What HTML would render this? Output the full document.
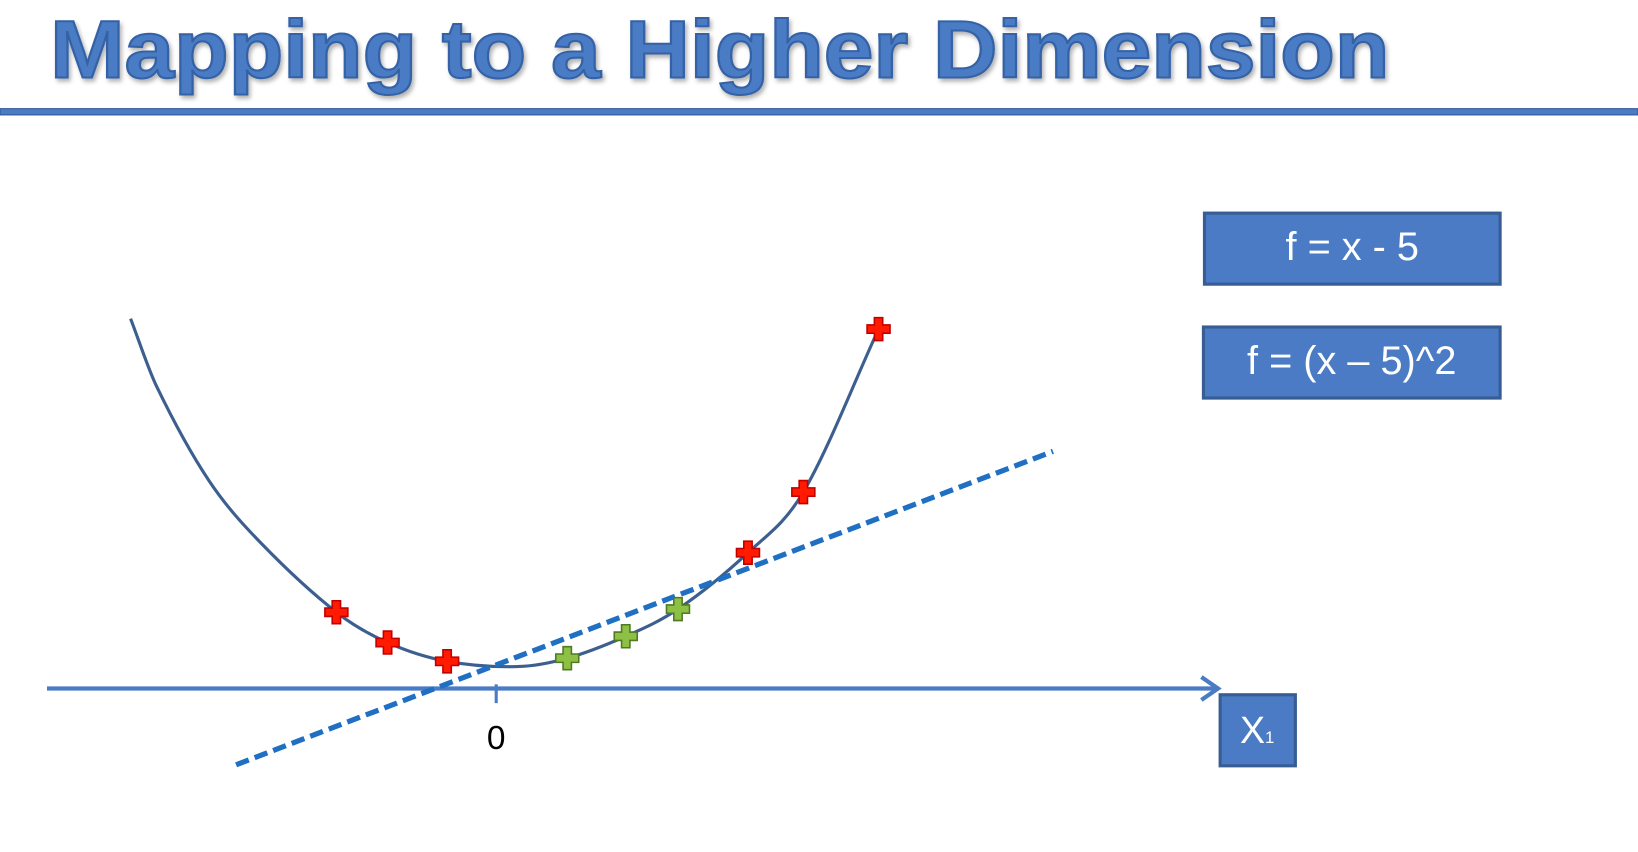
<!DOCTYPE html>
<html><head><meta charset="utf-8">
<style>
html,body{margin:0;padding:0;background:#fff;}
svg{display:block;}
text{font-family:"Liberation Sans",sans-serif;}
</style></head>
<body>
<svg id="chart" width="1638" height="852" viewBox="0 0 1568 815.5" preserveAspectRatio="none" xmlns="http://www.w3.org/2000/svg">
  <defs>
    <filter id="sh" x="-5%" y="-20%" width="110%" height="150%">
      <feDropShadow dx="2" dy="3" stdDeviation="2" flood-color="#000" flood-opacity="0.3"/>
    </filter>
  </defs>
  <text x="48" y="74" font-size="78" font-weight="bold" fill="#4a7cc4" stroke="#3462a6" stroke-width="2" textLength="1282" lengthAdjust="spacingAndGlyphs" filter="url(#sh)">Mapping to a Higher Dimension</text>
  <rect x="0" y="104" width="1568" height="6" fill="#4a7cc4" stroke="#2f5597" stroke-width="1"/>

  <g>
    <rect x="1153" y="204" width="283" height="68" fill="#4a7bc4" stroke="#385d94" stroke-width="3"/>
    <text x="1294.5" y="249" font-size="38" fill="#fff" text-anchor="middle">f = x - 5</text>
  </g>
  <g>
    <rect x="1152" y="313" width="284" height="68" fill="#4a7bc4" stroke="#385d94" stroke-width="3"/>
    <text x="1294" y="358" font-size="38" fill="#fff" text-anchor="middle">f = (x – 5)^2</text>
  </g>

  <g id="axis">
    <line x1="45" y1="659" x2="1166" y2="659" stroke="#4a7cc4" stroke-width="4"/>
    <polyline points="1150,648 1166,659 1150,670" fill="none" stroke="#4a7cc4" stroke-width="4"/>
    <line x1="475" y1="655" x2="475" y2="673" stroke="#4a7cc4" stroke-width="3"/>
    <text x="475" y="717" font-size="32" text-anchor="middle" fill="#000">0</text>
    <g>
      <rect x="1168" y="665" width="72" height="68" fill="#4a7bc4" stroke="#385d94" stroke-width="3"/>
      <text x="1199" y="711" font-size="36" fill="#fff" text-anchor="middle">X</text>
      <text x="1211" y="711" font-size="16" fill="#fff">1</text>
    </g>
  </g>
  <g id="plot"></g>
</svg>
<script>
// data (x in data units, y in data units)
const curveX = [-7.0, -6.5, -5.5, -4.5, -3.06, -2.08, -0.94, 0.4, 1.36, 2.48, 3.48, 4.82, 5.88, 7.32];
const curveY = [35.4, 28.9, 19.9, 13.9, 7.3, 4.4, 2.6, 2.1, 2.9, 5.0, 7.6, 13.0, 18.8, 34.4];
const redX = [-3.06, -2.08, -0.94, 4.82, 5.88, 7.32];
const redY = [7.3, 4.4, 2.6, 13.0, 18.8, 34.4];
const greenX = [1.36, 2.48, 3.48];
const greenY = [2.9, 5.0, 7.6];
const lineX = [-4.98, 10.66];
const lineY = [-7.3, 22.7];

const sx = v => 475 + v * 50;
const sy = v => 659 - v * 10;
const NS = 'http://www.w3.org/2000/svg';
const plot = document.getElementById('plot');

const P = curveX.map((x, i) => [sx(x), sy(curveY[i])]);
let d = `M${P[0][0]},${P[0][1]}`;
for (let i = 0; i < P.length - 1; i++) {
  const p0 = P[i - 1] || P[i], p1 = P[i], p2 = P[i + 1], p3 = P[i + 2] || P[i + 1];
  const h = p2[0] - p1[0];
  const m1 = (p2[1] - p0[1]) / (p2[0] - p0[0]);
  const m2 = (p3[1] - p1[1]) / (p3[0] - p1[0]);
  const c1 = [p1[0] + h / 3, p1[1] + m1 * h / 3];
  const c2 = [p2[0] - h / 3, p2[1] - m2 * h / 3];
  d += ` C${c1[0]},${c1[1]} ${c2[0]},${c2[1]} ${p2[0]},${p2[1]}`;
}
const curve = document.createElementNS(NS, 'path');
curve.setAttribute('d', d);
curve.setAttribute('fill', 'none');
curve.setAttribute('stroke', '#3d5f8f');
curve.setAttribute('stroke-width', '3');


plot.appendChild(curve);

const ln = document.createElementNS(NS, 'line');
ln.setAttribute('x1', sx(lineX[0])); ln.setAttribute('y1', sy(lineY[0]));
ln.setAttribute('x2', sx(lineX[1])); ln.setAttribute('y2', sy(lineY[1]));
ln.setAttribute('stroke', '#1f6fc3');
ln.setAttribute('stroke-width', '5');
ln.setAttribute('stroke-dasharray', '13 6');


plot.appendChild(ln);

function plus(cx, cy, fill, stroke) {
  const a = 11, w = 4;
  const pts = [[-w,-a],[w,-a],[w,-w],[a,-w],[a,w],[w,w],[w,a],[-w,a],[-w,w],[-a,w],[-a,-w],[-w,-w]]
    .map(p => (cx + p[0]) + ',' + (cy + p[1])).join(' ');
  const pg = document.createElementNS(NS, 'polygon');
  pg.setAttribute('points', pts);
  pg.setAttribute('fill', fill);
  pg.setAttribute('stroke', stroke);
  pg.setAttribute('stroke-width', '1.5');
  return pg;
}
redX.forEach((x, i) => {
  const m = plus(sx(x), sy(redY[i]), '#ff1a00', '#c00000');
  
  
  plot.appendChild(m);
});
greenX.forEach((x, i) => {
  const m = plus(sx(x), sy(greenY[i]), '#8dc044', '#4f7a22');
  
  
  plot.appendChild(m);
});
</script>
</body></html>
